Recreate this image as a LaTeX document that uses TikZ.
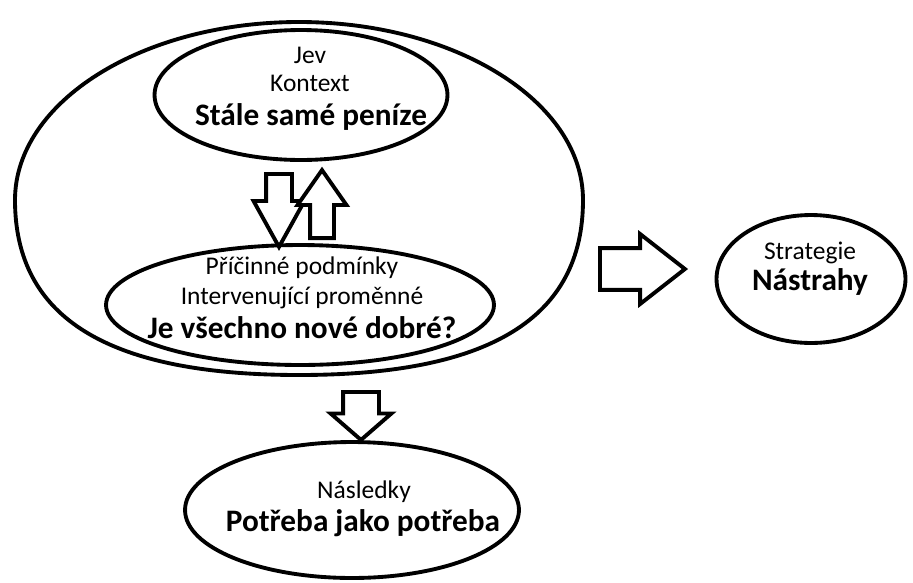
\documentclass[tikz,border=0pt]{standalone}
\usepackage{fontspec}
\setmainfont{Carlito}
\usetikzlibrary{shapes.geometric,shapes.arrows}

\begin{document}
\begin{tikzpicture}[
        x = 0.02cm,
        y = -0.02cm % pixel units, y down
    ]
    \tikzstyle{oval}=[
        draw = black,
        line width = 2.2pt,
        ellipse,
        inner sep = 0pt
    ]

    \tikzstyle{small text}=[
        font = \fontsize{14.5}{16}\selectfont,
        inner sep = 0pt
    ]

    \tikzstyle{big text}=[
        font = \fontsize{17.8}{20}\selectfont\bfseries,
        inner sep = 0pt
    ]

    \tikzstyle{block arrow}=[
        draw = black,
        line width = 2.2pt,
        fill = white,
        single arrow,
        inner xsep = 0pt
    ]

    \useasboundingbox (0,0) rectangle (913,582);

    % outer loop round both inner ovals
    \draw[line width=2.2pt] (15,200) .. controls (15,102) and (142,22) .. (299,22)
        .. controls (456,22) and (583,102) .. (583,200)
        .. controls (583,318) and (490,375) .. (299,375)
        .. controls (108,375) and (15,318) .. (15,200) -- cycle;

    \node[oval, minimum width=5.86cm, minimum height=2.6cm]  (jev)    at (301,95)  {};
    \node[oval, minimum width=7.76cm, minimum height=2.4cm]  (pricin) at (300,305) {};
    \node[oval, minimum width=3.78cm, minimum height=2.56cm] (strat)  at (811,279) {};
    \node[oval, minimum width=6.68cm, minimum height=2.72cm] (nasl)   at (352,510) {};

    \node[small text] (jevA) at (310,55)  {Jev};
    \node[small text] (jevB) at (310,83)  {Kontext};
    \node[big text]   (jevC) at (311,117) {Stále samé peníze};

    \node[small text] (pricinA) at (302,268) {Příčinné podmínky};
    \node[small text] (pricinB) at (302,298) {Intervenující proměnné};
    \node[big text]   (pricinC) at (302,328) {Je všechno nové dobré?};

    \node[small text] (stratA) at (810,253) {Strategie};
    \node[big text]   (stratB) at (810,282) {Nástrahy};

    \node[small text] (naslA) at (364,492) {Následky};
    \node[big text]   (naslB) at (363,523) {Potřeba jako potřeba};

    \node[block arrow, rotate=-90, anchor=tail, minimum height=1.46cm, minimum width=0.84cm,
          inner ysep=0.22cm, single arrow tip angle=58] (down) at (279,172) {};
    \node[block arrow, rotate=90, anchor=tail, minimum height=1.36cm, minimum width=0.88cm,
          inner ysep=0.2cm, single arrow tip angle=70] (up) at (322,240) {};
    \node[block arrow, anchor=tail, minimum height=1.7cm, minimum width=1.4cm,
          inner ysep=0.33cm, single arrow tip angle=76] (toStrat) at (598,269) {};
    \node[block arrow, rotate=-90, anchor=tail, minimum height=0.96cm, minimum width=1.16cm,
          inner ysep=0.32cm, single arrow tip angle=98] (toNasl) at (361,390) {};

\end{tikzpicture}
\end{document}
